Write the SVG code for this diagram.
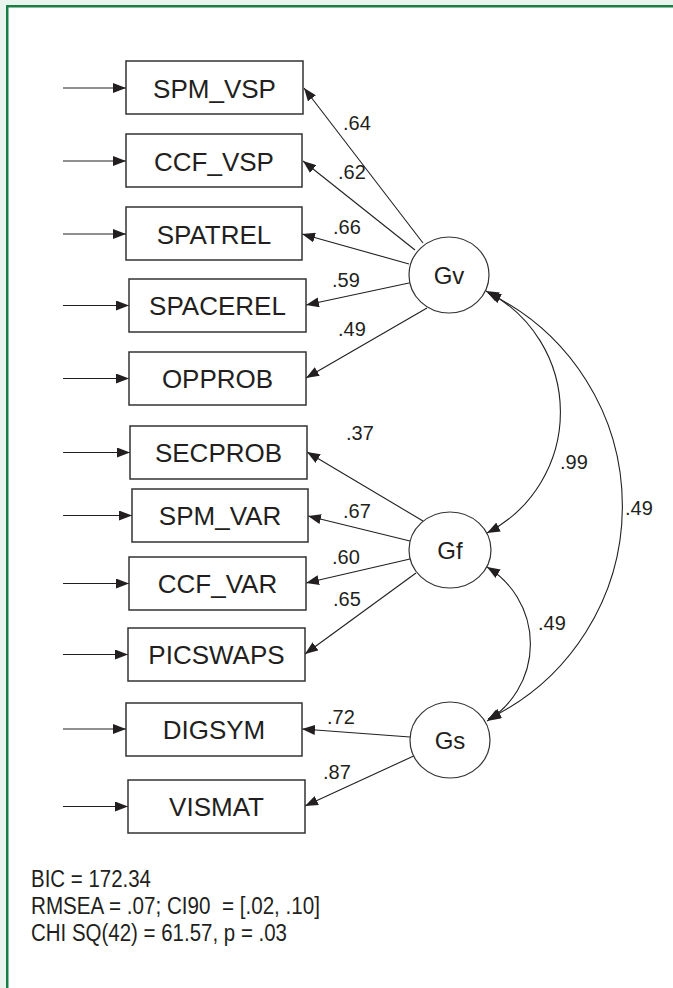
<svg xmlns="http://www.w3.org/2000/svg" width="673" height="988" viewBox="0 0 673 988">
<style>
.bg{fill:#eaf4ee}
.frame{fill:#fff;stroke:#1b7d46;stroke-width:2.5}
.box{fill:#fff;stroke:#333;stroke-width:1.5}
.lat{fill:#fff;stroke:#333;stroke-width:1.2}
.t{font-family:"Liberation Sans",Arial,sans-serif;fill:#231f20}
.bt{font-size:26px;text-anchor:middle}
.lt{font-size:24px;text-anchor:middle}
.num{font-size:20px}
.fit{font-size:23.5px}
.c line,.c path{stroke:#231f20;stroke-width:1.1;fill:none}
</style>
<defs>
<marker id="ah" markerUnits="userSpaceOnUse" markerWidth="14" markerHeight="10" refX="13" refY="5" orient="auto-start-reverse" viewBox="0 0 14 10">
<path d="M0,0 L13,5 L0,10 z" fill="#231f20"/>
</marker>
</defs>
<rect class="bg" x="0" y="0" width="673" height="988"/>
<rect class="frame" x="7.25" y="6.25" width="700" height="1000"/>

<g class="c" id="connectors">
<line x1="63" y1="88" x2="126" y2="88" marker-end="url(#ah)"/>
<line x1="63" y1="161" x2="126" y2="161" marker-end="url(#ah)"/>
<line x1="63" y1="234" x2="126" y2="234" marker-end="url(#ah)"/>
<line x1="63" y1="305.5" x2="129" y2="305.5" marker-end="url(#ah)"/>
<line x1="63" y1="378.5" x2="129" y2="378.5" marker-end="url(#ah)"/>
<line x1="63" y1="452.5" x2="130" y2="452.5" marker-end="url(#ah)"/>
<line x1="63" y1="515.5" x2="132" y2="515.5" marker-end="url(#ah)"/>
<line x1="63" y1="583.5" x2="129" y2="583.5" marker-end="url(#ah)"/>
<line x1="63" y1="654.5" x2="128" y2="654.5" marker-end="url(#ah)"/>
<line x1="63" y1="729" x2="126" y2="729" marker-end="url(#ah)"/>
<line x1="63" y1="806.5" x2="128" y2="806.5" marker-end="url(#ah)"/>

<line x1="423" y1="243" x2="304" y2="88" marker-end="url(#ah)"/>
<line x1="415" y1="250" x2="303" y2="161" marker-end="url(#ah)"/>
<line x1="409" y1="264" x2="302" y2="234" marker-end="url(#ah)"/>
<line x1="409" y1="283" x2="306" y2="305" marker-end="url(#ah)"/>
<line x1="427" y1="308" x2="306" y2="378" marker-end="url(#ah)"/>

<line x1="423" y1="521" x2="307" y2="452" marker-end="url(#ah)"/>
<line x1="410" y1="541" x2="308" y2="516" marker-end="url(#ah)"/>
<line x1="410" y1="559" x2="306" y2="583" marker-end="url(#ah)"/>
<line x1="416" y1="573" x2="305" y2="654" marker-end="url(#ah)"/>

<line x1="410" y1="737" x2="302" y2="729" marker-end="url(#ah)"/>
<line x1="418" y1="754" x2="305" y2="806" marker-end="url(#ah)"/>

<path d="M486,291 A136,136 0 0 1 487,533" marker-start="url(#ah)" marker-end="url(#ah)"/>
<path d="M488,293 A236,236 0 0 1 488,719" marker-start="url(#ah)" marker-end="url(#ah)"/>
<path d="M487,567 A90,90 0 0 1 487,721" marker-start="url(#ah)" marker-end="url(#ah)"/>
</g>

<g id="SPM_VSP"><rect class="box" x="126" y="61" width="177" height="53"/><text class="t bt" x="214.5" y="97.5">SPM_VSP</text></g>
<g id="CCF_VSP"><rect class="box" x="126" y="134" width="176" height="53"/><text class="t bt" x="214" y="170.5">CCF_VSP</text></g>
<g id="SPATREL"><rect class="box" x="126" y="207" width="176" height="53"/><text class="t bt" x="214" y="243.5">SPATREL</text></g>
<g id="SPACEREL"><rect class="box" x="129" y="279" width="177" height="53"/><text class="t bt" x="217.5" y="315">SPACEREL</text></g>
<g id="OPPROB"><rect class="box" x="129" y="352" width="177" height="53"/><text class="t bt" x="217.5" y="388">OPPROB</text></g>
<g id="SECPROB"><rect class="box" x="130" y="426" width="177" height="53"/><text class="t bt" x="218.5" y="462">SECPROB</text></g>
<g id="SPM_VAR"><rect class="box" x="132" y="489" width="176" height="53"/><text class="t bt" x="220" y="525">SPM_VAR</text></g>
<g id="CCF_VAR"><rect class="box" x="129" y="557" width="177" height="53"/><text class="t bt" x="217.5" y="593">CCF_VAR</text></g>
<g id="PICSWAPS"><rect class="box" x="128" y="628" width="177" height="53"/><text class="t bt" x="216.5" y="664">PICSWAPS</text></g>
<g id="DIGSYM"><rect class="box" x="126" y="703" width="176" height="53"/><text class="t bt" x="214" y="739">DIGSYM</text></g>
<g id="VISMAT"><rect class="box" x="128" y="780" width="177" height="53"/><text class="t bt" x="216.5" y="816">VISMAT</text></g>

<g id="Gv"><ellipse class="lat" cx="449" cy="275" rx="40" ry="38"/><text class="t lt" x="449" y="284">Gv</text></g>
<g id="Gf"><ellipse class="lat" cx="450" cy="550" rx="41" ry="38"/><text class="t lt" x="450" y="559">Gf</text></g>
<g id="Gs"><ellipse class="lat" cx="450" cy="740" rx="40" ry="38"/><text class="t lt" x="450" y="749">Gs</text></g>

<g id="labels">
<text class="t num" x="343" y="130">.64</text>
<text class="t num" x="338" y="179">.62</text>
<text class="t num" x="333" y="234">.66</text>
<text class="t num" x="332" y="287">.59</text>
<text class="t num" x="338" y="336">.49</text>
<text class="t num" x="346" y="440">.37</text>
<text class="t num" x="343" y="518">.67</text>
<text class="t num" x="332" y="564">.60</text>
<text class="t num" x="333" y="606">.65</text>
<text class="t num" x="327" y="724">.72</text>
<text class="t num" x="323" y="779">.87</text>
<text class="t num" x="560" y="469">.99</text>
<text class="t num" x="625" y="515">.49</text>
<text class="t num" x="538" y="630">.49</text>
</g>

<g id="fit">
<text class="t fit" x="31" y="887" textLength="120" lengthAdjust="spacingAndGlyphs">BIC = 172.34</text>
<text class="t fit" x="31" y="914" textLength="289" lengthAdjust="spacingAndGlyphs" xml:space="preserve">RMSEA = .07; CI90  = [.02, .10]</text>
<text class="t fit" x="31" y="941" textLength="256" lengthAdjust="spacingAndGlyphs">CHI SQ(42) = 61.57, p = .03</text>
</g>
</svg>
